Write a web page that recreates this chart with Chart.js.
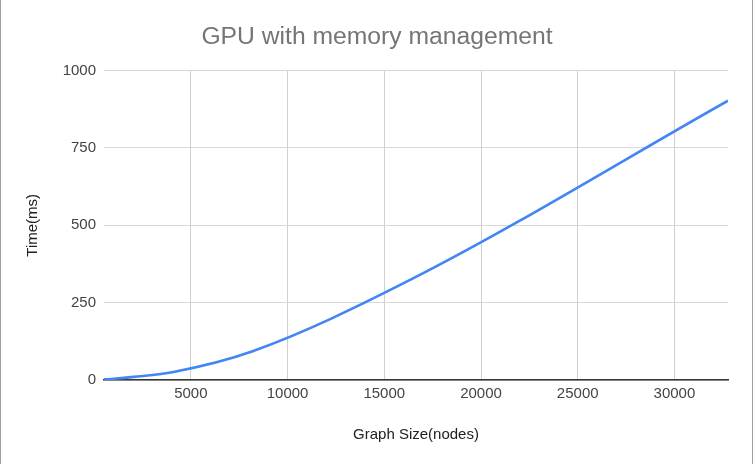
<!DOCTYPE html>
<html>
<head>
<meta charset="utf-8">
<script src="https://cdn.jsdelivr.net/npm/chart.js@4.4.0/dist/chart.umd.min.js"></script>
<style>
  html, body { margin: 0; padding: 0; background: #fff; }
  #wrap { position: relative; width: 754px; height: 464px; }
  #edgeL { position: absolute; left: 0; top: 0; width: 1px; height: 464px; background: #a0a0a0; }
  #edgeR { position: absolute; left: 752px; top: 0; width: 1px; height: 464px; background: #a0a0a0; }
</style>
</head>
<body>
<div id="wrap">
  <canvas id="c" width="754" height="464"></canvas>
  <div id="edgeL"></div>
  <div id="edgeR"></div>
</div>
<script>
// ---- data ----
const graphSizes = [512, 1024, 2048, 4096, 8192, 16384, 32768];
const timesMs = [2, 4, 10, 26, 93, 325, 903];
const xTickValues = [5000, 10000, 15000, 20000, 25000, 30000];
const yTickValues = [0, 250, 500, 750, 1000];
const chartTitle = 'GPU with memory management';
const xAxisTitle = 'Graph Size(nodes)';
const yAxisTitle = 'Time(ms)';

const FONT = "'Liberation Sans', Arial, sans-serif";

new Chart(document.getElementById('c'), {
  type: 'line',
  data: {
    datasets: [{
      data: graphSizes.map((x, i) => ({ x: x, y: timesMs[i] })),
      borderColor: '#4285F4',
      borderWidth: 2.6,
      pointRadius: 0,
      fill: false,
      cubicInterpolationMode: 'monotone'
    }]
  },
  options: {
    responsive: false,
    animation: false,
    layout: { padding: 0 },
    plugins: {
      legend: { display: false },
      tooltip: { enabled: false },
      title: {
        display: true,
        text: chartTitle,
        color: '#757575',
        font: { family: FONT, size: 24.7, weight: 'normal' },
        padding: { top: 22, bottom: 19 }
      }
    },
    scales: {
      x: {
        type: 'linear',
        min: 512,
        max: 32768,
        afterBuildTicks: (s) => { s.ticks = xTickValues.map(v => ({ value: v })); },
        afterFit: (s) => { s.height = 84; },
        grid: { color: '#d0d0d0', lineWidth: 1, drawTicks: false },
        border: { display: true, color: '#333333', width: 1.5 },
        ticks: {
          color: '#444444',
          font: { family: FONT, size: 15 },
          padding: 5,
          maxRotation: 0,
          autoSkip: false,
          callback: (v) => String(v)
        },
        title: {
          display: true,
          text: xAxisTitle,
          color: '#222222',
          font: { family: FONT, size: 15 },
          padding: { top: 0, bottom: 20 }
        }
      },
      y: {
        type: 'linear',
        min: 0,
        max: 1000,
        afterBuildTicks: (s) => { s.ticks = yTickValues.map(v => ({ value: v })); },
        afterFit: (s) => { s.width = 104; },
        grid: { color: '#d9d9d9', lineWidth: 1, drawTicks: false },
        border: { display: false },
        ticks: {
          color: '#444444',
          font: { family: FONT, size: 15 },
          padding: 8,
          callback: (v) => String(v)
        },
        title: {
          display: true,
          text: yAxisTitle,
          color: '#222222',
          font: { family: FONT, size: 15 },
          padding: { top: 24, bottom: 0 }
        }
      },
      rightSpace: {
        type: 'linear',
        position: 'right',
        afterFit: (s) => { s.width = 26; },
        grid: { display: false, drawTicks: false },
        border: { display: false },
        ticks: { display: false },
        title: { display: false }
      }
    }
  }
});
</script>
</body>
</html>
